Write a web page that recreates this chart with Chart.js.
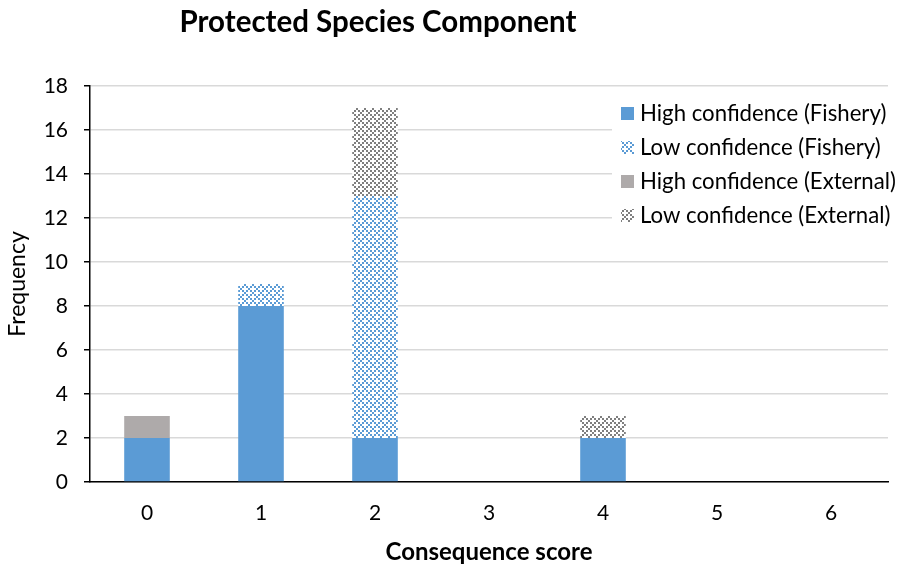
<!DOCTYPE html>
<html>
<head>
<meta charset="utf-8">
<script src="https://cdn.jsdelivr.net/npm/chart.js@4"></script>
<style>
  html, body { margin: 0; padding: 0; background: #fff; }
  #wrap { width: 898px; height: 571px; }
</style>
</head>
<body>
<div id="wrap"><canvas id="c" width="898" height="571"></canvas></div>
<script>
// Consequence scores along the x axis
const scores = ['0', '1', '2', '3', '4', '5', '6'];
// Frequencies per score, one array per series
const highFishery = [2, 8, 2, 0, 2, 0, 0];
const lowFishery = [0, 1, 11, 0, 0, 0, 0];
const highExternal = [1, 0, 0, 0, 0, 0, 0];
const lowExternal = [0, 0, 4, 0, 1, 0, 0];
const seriesNames = [
  'High confidence (Fishery)',
  'Low confidence (Fishery)',
  'High confidence (External)',
  'Low confidence (External)'
];

const FONT = 'Lato, "Open Sans", sans-serif';
const BLUE = '#5B9BD5';
const GREY = '#AEAAAA';
const PATTERN_GREY = '#7F7F7F';

// Small dotted-diamond hatch used for the low-confidence series
function makeHatch(color) {
  const cell = 2, period = 4;
  const c = document.createElement('canvas');
  c.width = c.height = cell * period;
  const g = c.getContext('2d');
  g.fillStyle = '#ffffff';
  g.fillRect(0, 0, c.width, c.height);
  g.fillStyle = color;
  for (let y = 0; y < period; y++) {
    for (let x = 0; x < period; x++) {
      if ((x + y) % period === 0 || ((x - y) % period + period) % period === 0) {
        g.fillRect(x * cell, y * cell, cell, cell);
      }
    }
  }
  return g.createPattern(c, 'repeat');
}

const ctx = document.getElementById('c').getContext('2d');
const fills = [BLUE, makeHatch(BLUE), GREY, makeHatch(PATTERN_GREY)];
const values = [highFishery, lowFishery, highExternal, lowExternal];

// Title and legend (legend sits on a white box over the grid)
const decorations = {
  id: 'decorations',
  afterDraw(chart) {
    const g = chart.ctx;
    g.save();
    g.fillStyle = '#000';
    g.textAlign = 'center';
    g.textBaseline = 'middle';
    g.font = 'bold 29.5px ' + FONT;
    g.fillText('Protected Species Component', 378, 22);

    const lx = 612, ly = 96, rowH = 34;
    g.fillStyle = '#fff';
    g.fillRect(lx, ly, 898 - lx, rowH * 4);
    g.font = '22.2px ' + FONT;
    g.textAlign = 'left';
    seriesNames.forEach((name, i) => {
      const cy = ly + rowH / 2 + i * rowH;
      g.fillStyle = fills[i];
      g.fillRect(lx + 9, cy - 6, 13, 13);
      g.fillStyle = '#000';
      g.fillText(name, lx + 28, cy + 1);
    });
    g.restore();
  }
};

new Chart(ctx, {
  type: 'bar',
  data: {
    labels: scores,
    datasets: seriesNames.map((name, i) => ({
      label: name,
      data: values[i],
      backgroundColor: fills[i],
      borderWidth: 0,
      barPercentage: 0.4,
      categoryPercentage: 1.0
    }))
  },
  options: {
    responsive: false,
    animation: false,
    layout: { padding: { left: 0, right: 10, top: 86, bottom: 0 } },
    plugins: {
      legend: { display: false },
      title: { display: false },
      tooltip: { enabled: false }
    },
    scales: {
      x: {
        stacked: true,
        grid: { display: false, drawTicks: false },
        border: { display: true, color: '#000', width: 1.5 },
        ticks: { color: '#000', font: { family: FONT, size: 21 }, padding: 19 },
        title: {
          display: true,
          text: 'Consequence score',
          color: '#000',
          font: { family: FONT, size: 24, weight: 'bold' },
          padding: { top: 8 }
        },
        afterFit(s) { s.height = 89; }
      },
      y: {
        stacked: true,
        min: 0,
        max: 18,
        ticks: { stepSize: 2, color: '#000', font: { family: FONT, size: 21 }, padding: 16 },
        grid: { color: '#D9D9D9', lineWidth: 1.5, tickColor: '#000', tickLength: 6, drawTicks: true },
        border: { display: true, color: '#000', width: 1.5 },
        title: {
          display: true,
          text: 'Frequency',
          color: '#000',
          font: { family: FONT, size: 23 },
          padding: { bottom: 6 }
        },
        afterFit(s) { s.width = 90; }
      }
    }
  },
  plugins: [decorations]
});
</script>
</body>
</html>
